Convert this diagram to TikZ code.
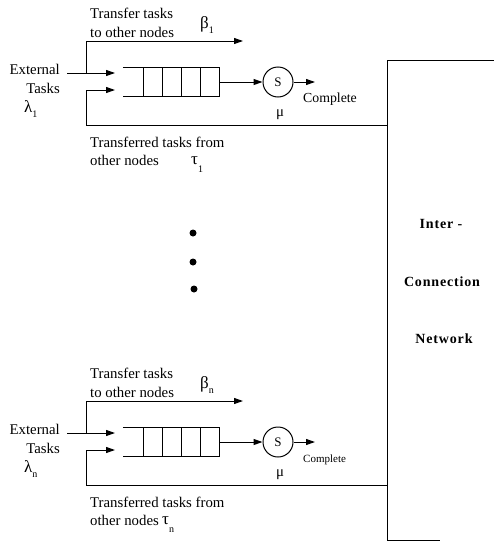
\documentclass[tikz,border=0pt]{standalone}
\usepackage{fontspec}
\setmainfont{Liberation Serif}
\usetikzlibrary{arrows.meta}
\tikzset{
  conn/.style={line width=1pt},
  arr/.style={conn,-{Triangle[length=9pt,width=6pt]}},
  lbl/.style={inner sep=0pt, font=\fontsize{14.8}{17}\selectfont},
  greek/.style={inner sep=0pt, font=\fontsize{17}{19}\selectfont},
  netlbl/.style={inner sep=0pt, font=\fontsize{14}{16}\selectfont\bfseries\addfontfeatures{LetterSpace=6}},
  server/.style={circle, draw, line width=1pt, minimum size=30pt, inner sep=0pt, font=\fontsize{13}{15}\selectfont},
  dot/.style={circle, fill, inner sep=0pt, minimum size=7pt},
}
\newcommand\lowsub[2][0.35em]{\raisebox{-#1}{\fontsize{10}{10}\selectfont #2}}
\newcommand\drawunit[6]{%
  % #1 id, #2 dy, #3 beta sub, #4 lambda sub, #5 tau x, #6 complete size
  \begin{scope}[shift={(0,#2)}]
    \coordinate (ext#1) at (67,73);
    \coordinate (j#1) at (86,73);
    \coordinate (ina#1) at (115,73);
    \coordinate (tt#1) at (86,41);
    \coordinate (to#1) at (243,41);
    \coordinate (fb#1) at (86,125);
    \coordinate (fbup#1) at (86,90);
    \coordinate (inb#1) at (115,90);
    \node[inner sep=0pt, minimum width=96pt, minimum height=28pt] (q#1) at (171,82) {};
    \node[server] (s#1) at (278,82) {S};
    \coordinate (done#1) at (315,82);
    % queue
    \draw[conn] (q#1.north west) -- (q#1.north east) -- (q#1.south east) -- (q#1.south west);
    \foreach \xx in {143,162,181,200} \draw[conn] (\xx,68) -- (\xx,96);
    % connectors
    \draw[conn] (ext#1) -- (j#1);
    \draw[arr] (j#1) -- (ina#1);
    \draw[arr] (j#1) -- (tt#1) -- (to#1);
    \draw[arr] (net.west |- fb#1) -- (fb#1) -- (fbup#1) -- (inb#1);
    \draw[arr] (q#1.east) -- (s#1.west);
    \draw[arr] (s#1.east) -- (done#1);
    % labels
    \node[lbl, anchor=base west] (tta#1) at (90,18) {Transfer tasks};
    \node[lbl, anchor=base west] (ttb#1) at (90,37) {to other nodes};
    \node[greek, anchor=base west] (beta#1) at (200,28) {β\lowsub{#3}};
    \node[lbl, anchor=base east] (exa#1) at (60,74) {External};
    \node[lbl, anchor=base east] (exb#1) at (60,93) {Tasks};
    \node[greek, anchor=base west] (lam#1) at (24,112) {λ\lowsub{#4}};
    \node[anchor=base west, inner sep=0pt, font=\fontsize{#6}{#6}\selectfont] (cmp#1) at (303,102) {Complete};
    \node[lbl] (mu#1) at (280,115) {μ};
    \node[lbl, anchor=base west] (tfa#1) at (90,147) {Transferred tasks from};
    \node[lbl, anchor=base west] (tfb#1) at (90,165) {other nodes};
    \node[greek, anchor=base west] (tau#1) at (#5,164) {τ\lowsub[0.5em]{#4}};
  \end{scope}}
\begin{document}
\begin{tikzpicture}[x=1pt,y=-1pt]
\useasboundingbox (0,0) rectangle (494,541);
% interconnection network
\node[inner sep=0pt, minimum width=107pt, minimum height=480pt, anchor=north west] (net) at (387,60) {};
\draw[conn] (net.north east) -- (net.north west) -- (net.south west) -- ([xshift=-54pt]net.south east);
\node[netlbl] (n1) at (441,224) {Inter -};
\node[netlbl] (n2) at (442,282) {Connection};
\node[netlbl] (n3) at (444,339) {Network};
% the two processing nodes
\drawunit{a}{0}{1}{1}{191}{13.8}
\drawunit{b}{360}{n}{n}{162}{11}
% dots
\node[dot] (d1) at (193,233) {};
\node[dot] (d2) at (193,262) {};
\node[dot] (d3) at (194,289) {};
\end{tikzpicture}
\end{document}
